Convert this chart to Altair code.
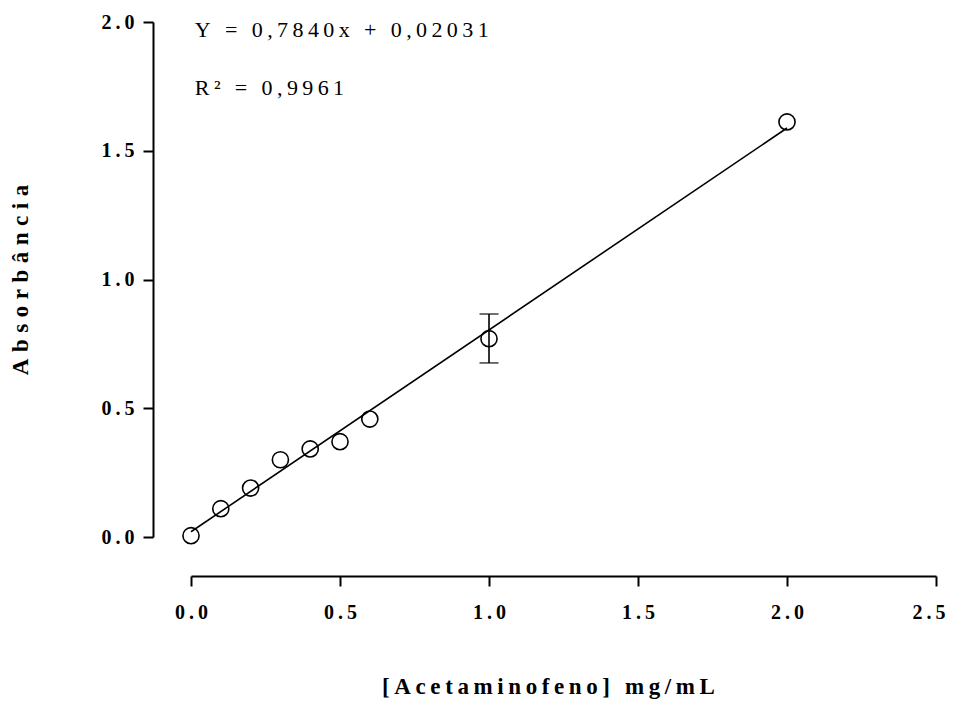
import altair as alt
import pandas as pd

conc = [0.0, 0.1, 0.2, 0.3, 0.4, 0.5, 0.6, 1.0, 2.0]
absorb = [0.005, 0.11, 0.19, 0.30, 0.342, 0.37, 0.458, 0.77, 1.612]
err_lo = [None, None, None, None, None, None, None, 0.676, None]
err_hi = [None, None, None, None, None, None, None, 0.866, None]

fit_x = [0.0, 2.0]
fit_y = [0.02031, 1.58831]

eq_text = ["Y = 0,7840x + 0,02031", "R² = 0,9961"]
eq_x = [0.013, 0.013]
eq_y = [1.942, 1.7165]

x_ticks = [0.0, 0.5, 1.0, 1.5, 2.0, 2.5]
y_ticks = [0.0, 0.5, 1.0, 1.5, 2.0]

x_title = "[Acetaminofeno] mg/mL"
y_title = "Absorbância"

THIN = "\u2009"


def spaced(s, sep=THIN):
    return sep.join(list(s))


pts = pd.DataFrame({"x": conc, "y": absorb})
errs = pd.DataFrame({"x": conc, "lo": err_lo, "hi": err_hi}).dropna()
fit = pd.DataFrame({"x": fit_x, "y": fit_y})
eq = pd.DataFrame({"t": [spaced(t) for t in eq_text], "x": eq_x, "y": eq_y})

FONT = "Liberation Serif"
label_expr = "join(split(format(datum.value, '.1f'), ''), '\u2009')"

xs = alt.Scale(domain=[0, 2.5], nice=False, zero=False)
ys = alt.Scale(domain=[0, 2.0], nice=False, zero=False)

xaxis = alt.Axis(
    values=x_ticks, labelExpr=label_expr, grid=False, offset=39,
    title=spaced(x_title), titlePadding=53, titleX=357,
    labelPadding=16, labelFlush=False, labelOverlap=False,
    labelAlign={"condition": {"test": "datum.value >= 2.5", "value": "right"},
                "value": "center"},
    labelOffset={"condition": {"test": "datum.value >= 2.5", "value": 9},
                 "value": 0},
)
yaxis = alt.Axis(values=y_ticks, labelExpr=label_expr, grid=False, offset=38,
                 title=spaced(y_title, "\u2009\u200a"), titlePadding=68,
                 labelPadding=9, labelFlush=False, labelOverlap=False)

line = alt.Chart(fit).mark_line(color="black", strokeWidth=1.6).encode(
    x=alt.X("x:Q", scale=xs, axis=xaxis),
    y=alt.Y("y:Q", scale=ys, axis=yaxis),
)

points = alt.Chart(pts).mark_point(shape="circle", size=260, filled=False,
                                   color="black", strokeWidth=1.6, opacity=1).encode(
    x=alt.X("x:Q", scale=xs),
    y=alt.Y("y:Q", scale=ys),
)

err_rule = alt.Chart(errs).mark_rule(color="black", strokeWidth=1.6).encode(
    x=alt.X("x:Q", scale=xs),
    y=alt.Y("lo:Q", scale=ys),
    y2="hi:Q",
)
cap_lo = alt.Chart(errs).mark_tick(color="black", thickness=1.6, size=19,
                                   orient="horizontal").encode(
    x=alt.X("x:Q", scale=xs),
    y=alt.Y("lo:Q", scale=ys),
)
cap_hi = alt.Chart(errs).mark_tick(color="black", thickness=1.6, size=19,
                                   orient="horizontal").encode(
    x=alt.X("x:Q", scale=xs),
    y=alt.Y("hi:Q", scale=ys),
)

eq_txt = alt.Chart(eq).mark_text(align="left", baseline="alphabetic", font=FONT,
                                 fontSize=22, color="black").encode(
    x=alt.X("x:Q", scale=xs),
    y=alt.Y("y:Q", scale=ys),
    text="t:N",
)

chart = alt.layer(line, err_rule, cap_lo, cap_hi, points, eq_txt).properties(
    width=745, height=515,
    autosize=alt.AutoSizeParams(type="none"),
    padding={"left": 183, "top": 14, "right": 10, "bottom": 166},
).configure_view(stroke=None).configure_axis(
    domainColor="black", domainWidth=2, tickColor="black", tickWidth=2,
    tickSize=10, labelFont=FONT, labelFontWeight="bold", labelFontSize=20,
    labelColor="black", titleFont=FONT, titleFontWeight="bold",
    titleFontSize=23, titleColor="black",
)

chart.save("out.html", embed_options={"renderer": "svg", "actions": False})
